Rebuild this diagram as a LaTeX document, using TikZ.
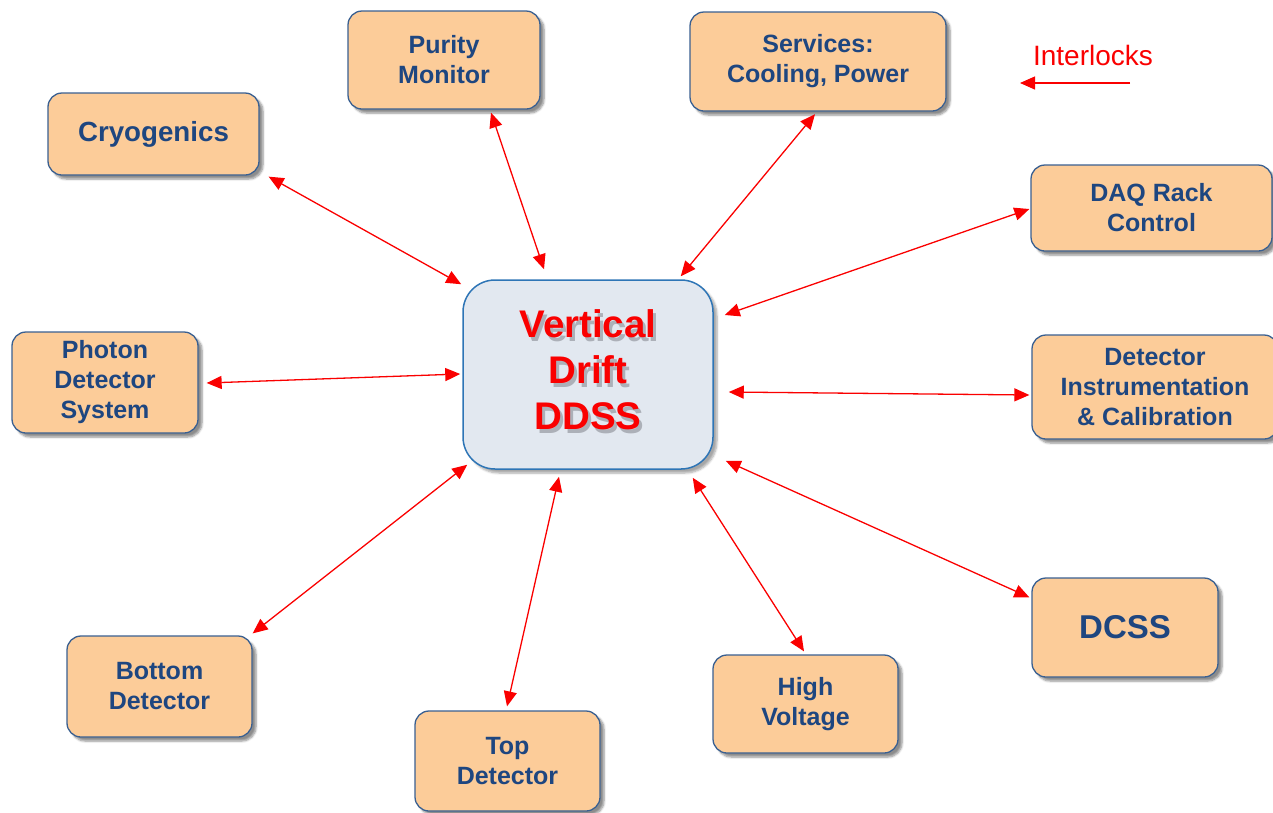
\documentclass[tikz,border=0pt]{standalone}
\usepackage{fontspec}
\setmainfont{Liberation Sans}
\usetikzlibrary{arrows.meta,calc,shadows.blur}

\definecolor{boxfill}{RGB}{252,204,153}
\definecolor{boxline}{RGB}{58,96,145}
\definecolor{boxtext}{RGB}{30,70,128}
\definecolor{hubfill}{RGB}{226,232,240}
\definecolor{hubline}{RGB}{46,117,182}
\definecolor{hubshade}{RGB}{172,176,184}
\definecolor{linkred}{RGB}{250,0,0}

% hub caption with a soft offset copy beneath it
\newcommand{\hubcaption}{\begin{tabular}{@{}c@{}}Vertical\\Drift\\DDSS\end{tabular}}
\newcommand{\shadedcaption}{%
  \rlap{\hspace*{3pt}\raisebox{-3.5pt}[0pt][0pt]{\color{hubshade}\hubcaption}}%
  \hubcaption}

\tikzset{
  unit/.style={draw=boxline, line width=1.3pt, fill=boxfill, rounded corners=14pt,
    text=boxtext, font=\bfseries\fontsize{25}{30}\selectfont, align=center,
    inner sep=0pt,
    blur shadow={shadow xshift=4pt, shadow yshift=-4pt, shadow blur steps=6, shadow opacity=45}},
  hub/.style={draw=hubline, line width=1.5pt, fill=hubfill, rounded corners=32pt,
    inner sep=0pt, text=linkred, font=\bfseries\fontsize{38.5}{46}\selectfont,
    blur shadow={shadow xshift=4pt, shadow yshift=-4pt, shadow blur steps=6, shadow opacity=35}},
  link/.style={draw=linkred, line width=1.3pt, {Triangle[length=15pt,width=13pt]}-{Triangle[length=15pt,width=13pt]}},
  onelink/.style={draw=linkred, line width=1.3pt, -{Triangle[length=15pt,width=13pt]}}
}

\begin{document}
\begin{tikzpicture}[x=1pt,y=-1pt]
\useasboundingbox (0,0) rectangle (1273,812);

% central hub
\node[hub, minimum width=250pt, minimum height=189pt] (ctr) at (588,374.5) {\shadedcaption};

% surrounding subsystems
\node[unit, minimum width=192pt, minimum height=98pt] (pur) at (444,60) {Purity\\Monitor};
\node[unit, minimum width=256pt, minimum height=99pt] (serv) at (818,61.5) {Services:\\Cooling, Power};
\node[unit, minimum width=211pt, minimum height=82pt, font=\bfseries\fontsize{27.7}{32}\selectfont] (cryo) at (153.5,134) {Cryogenics};
\node[unit, minimum width=241pt, minimum height=86pt] (daq) at (1151.5,208) {DAQ Rack\\Control};
\node[unit, minimum width=186pt, minimum height=101pt] (pds) at (105,382.5) {Photon\\Detector\\System};
\node[unit, minimum width=246pt, minimum height=104pt] (dic) at (1155,387) {Detector\\Instrumentation\\\& Calibration};
\node[unit, minimum width=186pt, minimum height=99pt, font=\bfseries\fontsize{33}{38}\selectfont] (dcss) at (1125,627.5) {DCSS};
\node[unit, minimum width=185pt, minimum height=101pt] (bot) at (159.5,686.5) {Bottom\\Detector};
\node[unit, minimum width=185pt, minimum height=100pt] (top) at (507.5,761) {Top\\Detector};
\node[unit, minimum width=185pt, minimum height=98pt] (hv) at (805.5,704) {High\\Voltage};

% two-way links to the hub
\draw[link] ($(cryo.south east)+(9,1)$) -- ($(ctr.north west)+(-1,5)$);
\draw[link] ($(pur.south)+(47,3)$) -- ($(ctr.north)+(-44,-10)$);
\draw[link] ($(serv.south)+(-3,2.5)$) -- ($(ctr.north east)+(-33,-3)$);
\draw[link] ($(daq.west)+(-1,1)$) -- ($(ctr.east)+(11,-59.5)$);
\draw[link] ($(pds.east)+(8,0.5)$) -- ($(ctr.west)+(-2,-0.5)$);
\draw[link] ($(ctr.east)+(15,17.5)$) -- ($(dic.west)+(-2,8)$);
\draw[link] ($(ctr.south east)+(12,-9)$) -- ($(dcss.north west)+(-2,20)$);
\draw[link] ($(ctr.south east)+(-21,8)$) -- ($(hv.north)+(-1.5,-3)$);
\draw[link] ($(ctr.south)+(-29,7)$) -- ($(top.north)+(-0.5,-4)$);
\draw[link] ($(ctr.south west)+(5,-5)$) -- ($(bot.north east)+(0,-2)$);

% legend
\node[text=linkred, font=\fontsize{28}{32}\selectfont] (ilk) at (1093,55) {Interlocks};
\coordinate (ilkfrom) at (1130,83);
\coordinate (ilkto) at (1020,83);
\draw[onelink] (ilkfrom) -- (ilkto);
\end{tikzpicture}
\end{document}
